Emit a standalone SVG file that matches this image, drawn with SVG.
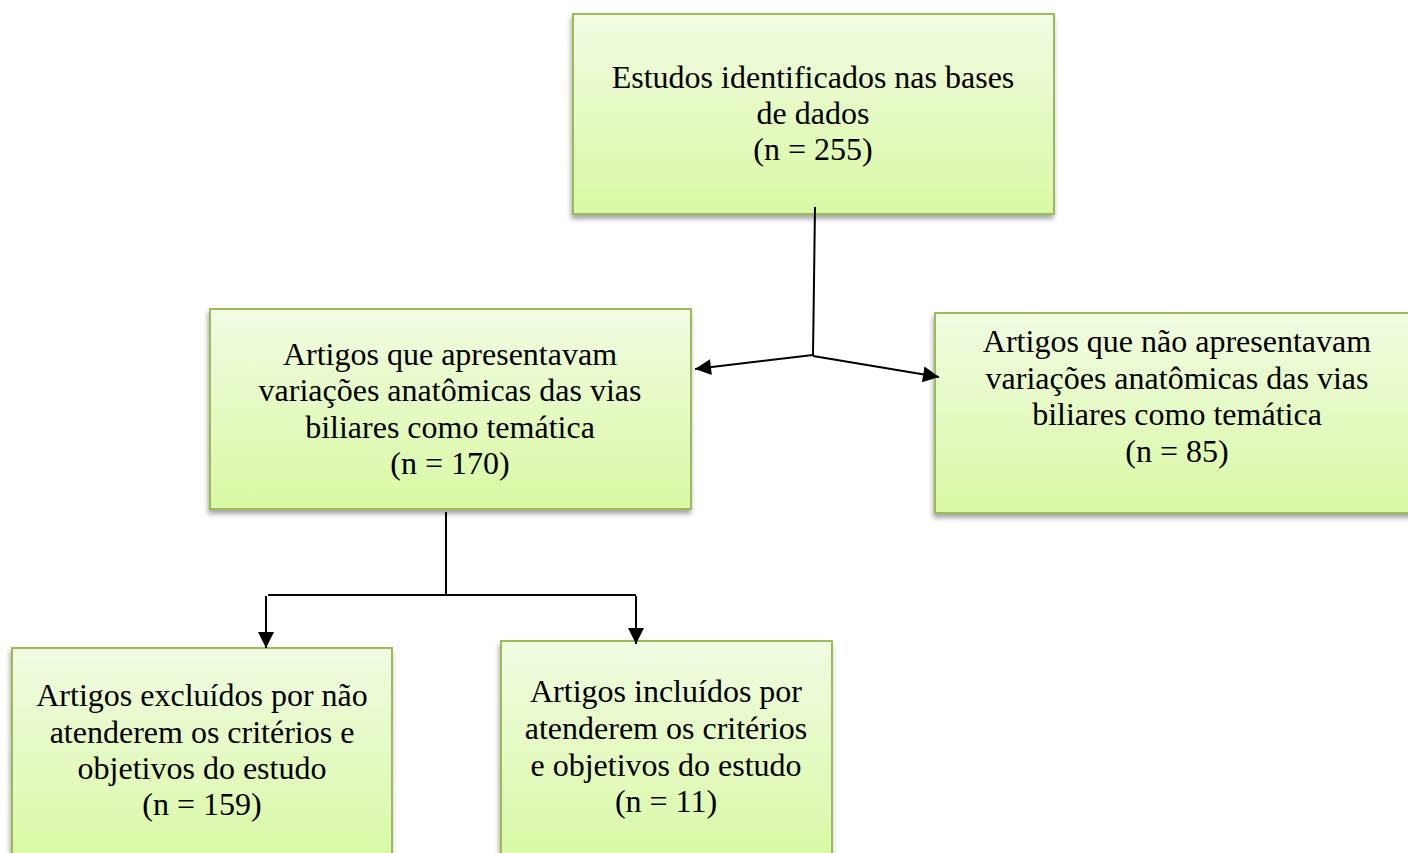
<svg xmlns="http://www.w3.org/2000/svg" width="1408" height="853" viewBox="0 0 1408 853">
<defs>
<linearGradient id="g" x1="0" y1="0" x2="0" y2="1">
<stop offset="0" stop-color="#f1fbe2"/>
<stop offset="1" stop-color="#d9f9a4"/>
</linearGradient>
<filter id="sh" x="-5%" y="-5%" width="110%" height="115%">
<feGaussianBlur in="SourceAlpha" stdDeviation="2.5"/>
<feOffset dx="-1" dy="4" result="b"/>
<feComponentTransfer><feFuncA type="linear" slope="0.35"/></feComponentTransfer>
<feMerge><feMergeNode/><feMergeNode in="SourceGraphic"/></feMerge>
</filter>
<marker id="ah" viewBox="0 0 10 10" refX="10" refY="5" markerWidth="8.5" markerHeight="8" orient="auto" markerUnits="strokeWidth">
<path d="M0,0 L10,5 L0,10 z" fill="#000"/>
</marker>
<style>
.box{fill:url(#g);stroke:#9bbb59;stroke-width:2;filter:url(#sh)}
.t{font-family:"Liberation Serif","Times New Roman",serif;font-size:32px;fill:#000;text-anchor:middle}
.c{stroke:#000;stroke-width:2;fill:none}
</style>
</defs>
<g id="n1">
<rect class="box" x="573" y="14" width="481" height="200"/>
<text class="t"><tspan x="813" y="88">Estudos identificados nas bases</tspan><tspan x="813" y="124">de dados</tspan><tspan x="813" y="160">(n = 255)</tspan></text>
</g>
<g id="n2">
<rect class="box" x="210" y="309" width="481" height="200"/>
<text class="t"><tspan x="450" y="365">Artigos que apresentavam</tspan><tspan x="450" y="401">variações anatômicas das vias</tspan><tspan x="450" y="438">biliares como temática</tspan><tspan x="450" y="474">(n = 170)</tspan></text>
</g>
<g id="n3">
<rect class="box" x="935" y="313" width="480" height="200"/>
<text class="t"><tspan x="1177" y="352">Artigos que não apresentavam</tspan><tspan x="1177" y="389">variações anatômicas das vias</tspan><tspan x="1177" y="425">biliares como temática</tspan><tspan x="1177" y="462">(n = 85)</tspan></text>
</g>
<g id="n4">
<rect class="box" x="12" y="648" width="380" height="215"/>
<text class="t"><tspan x="202" y="706">Artigos excluídos por não</tspan><tspan x="202" y="743">atenderem os critérios e</tspan><tspan x="202" y="779">objetivos do estudo</tspan><tspan x="202" y="815">(n = 159)</tspan></text>
</g>
<g id="n5">
<rect class="box" x="501" y="641" width="331" height="222"/>
<text class="t"><tspan x="666" y="702">Artigos incluídos por</tspan><tspan x="666" y="739">atenderem os critérios</tspan><tspan x="666" y="776">e objetivos do estudo</tspan><tspan x="666" y="812">(n = 11)</tspan></text>
</g>
<g id="connectors">
<line class="c" x1="815" y1="207" x2="813" y2="355"/>
<line class="c" x1="813" y1="355" x2="695" y2="369" marker-end="url(#ah)"/>
<line class="c" x1="813" y1="356" x2="939" y2="377" marker-end="url(#ah)"/>
<line class="c" x1="446" y1="512" x2="446" y2="595"/>
<line class="c" x1="268" y1="595" x2="636" y2="595"/>
<line class="c" x1="266" y1="596" x2="266" y2="648" marker-end="url(#ah)"/>
<line class="c" x1="636" y1="596" x2="636" y2="644" marker-end="url(#ah)"/>
</g>
</svg>
